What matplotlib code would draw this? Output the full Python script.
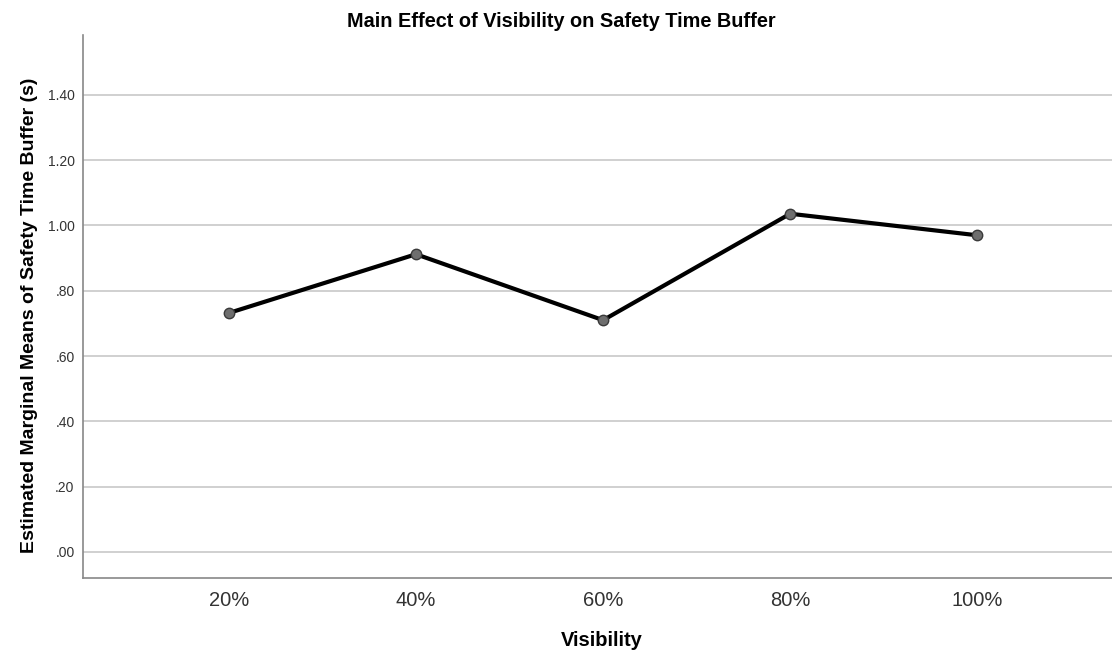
import matplotlib
matplotlib.use("Agg")
import matplotlib.pyplot as plt

# data
visibility = ["20%", "40%", "60%", "80%", "100%"]
emm = [0.732, 0.912, 0.710, 1.036, 0.970]
yticks = [0.0, 0.2, 0.4, 0.6, 0.8, 1.0, 1.2, 1.4]
ytick_labels = [".00", ".20", ".40", ".60", ".80", "1.00", "1.20", "1.40"]

plt.rcParams["font.family"] = ["Liberation Sans", "DejaVu Sans"]

fig = plt.figure(figsize=(11.12, 6.51), dpi=100)
ax = fig.add_axes([0.0746, 0.112, 0.9254, 0.834])

x = list(range(len(visibility)))
ax.plot(x, emm, color="black", linewidth=3, zorder=3)
ax.plot(x, emm, "o", markersize=7.5, markerfacecolor="#6e6e6e",
        markeredgecolor="#3a3a3a", markeredgewidth=1, zorder=4)

ax.set_xlim(-0.78, 4.72)
ax.set_ylim(-0.08, 1.583)
ax.set_yticks(yticks)
ax.set_yticklabels(ytick_labels)
ax.set_xticks(x)
ax.set_xticklabels(visibility)

ax.grid(axis="y", color="#c8c8c8", linewidth=1.2)
ax.set_axisbelow(True)
for s in ["top", "right"]:
    ax.spines[s].set_visible(False)
for s in ["left", "bottom"]:
    ax.spines[s].set_color("#888888")
    ax.spines[s].set_linewidth(1.2)

ax.tick_params(axis="both", length=0)
ax.tick_params(axis="y", labelsize=10, colors="#333333", pad=6)
ax.tick_params(axis="x", labelsize=14.5, colors="#333333", pad=9)

ax.set_xlabel("Visibility", fontsize=14.5, fontweight="bold")
ax.xaxis.set_label_coords(0.504, -0.098)
ax.set_ylabel("Estimated Marginal Means of Safety Time Buffer (s)",
              fontsize=14, fontweight="bold")
ax.yaxis.set_label_coords(-0.044, 0.484)
fig.suptitle("Main Effect of Visibility on Safety Time Buffer",
             fontsize=14.3, fontweight="bold", x=0.5045, y=0.981, va="top")

plt.savefig("out.png", dpi=100)
plt.close()
